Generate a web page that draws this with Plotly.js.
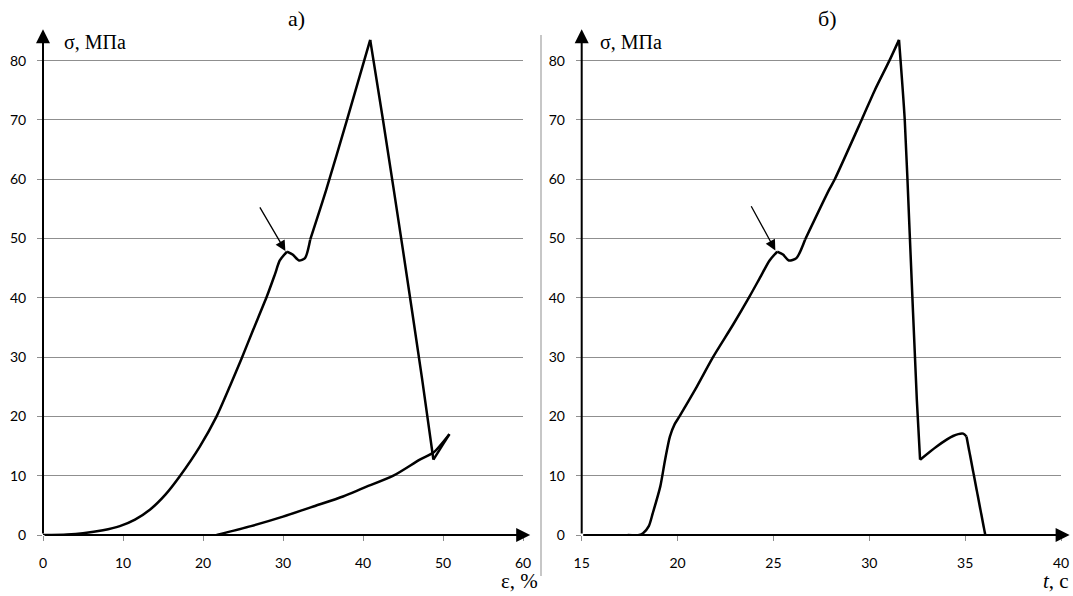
<!DOCTYPE html>
<html>
<head>
<meta charset="utf-8">
<script src="https://cdn.plot.ly/plotly-3.0.1.min.js"></script>
<style>html,body{margin:0;padding:0;background:#fff}#chart{width:1073px;height:596px}</style>
</head>
<body>
<div id="chart"></div>
<script>
// Panel а): stress vs strain
const strainA = [0, 3, 5, 7.5, 9.6, 11.5, 13.4, 15.3, 17.1, 19.6, 21.7, 23.4, 24.8, 26.3, 28.0, 29.0, 29.6, 30.5, 31.2, 32.0, 32.75, 33.4, 35.4, 38.0, 40.9, 42.5, 45.0, 47.4, 48.8, 50.8, 48.8, 47.1, 43.8, 40.0, 37.5, 34.0, 30.0, 26.0, 21.7];
const stressA = [0, 0.1, 0.3, 0.8, 1.5, 2.6, 4.3, 6.8, 9.9, 14.9, 20, 25.2, 29.7, 34.7, 40.3, 44.0, 46.3, 47.8, 47.3, 46.3, 46.7, 49.8, 58.2, 70, 83.5, 70, 48, 26.2, 12.7, 17.0, 13.9, 12.7, 10, 7.9, 6.5, 4.9, 3.1, 1.5, 0];
// indices of sharp corners in panel а)
const cornersA = [0, 17, 21, 24, 28, 29, 38];
// Panel б): stress vs time
const timeB = [17.4, 18.0, 18.2, 18.5, 18.7, 19.1, 19.35, 19.6, 19.85, 20.1, 21.0, 21.85, 22.9, 23.75, 24.3, 24.8, 25.2, 25.5, 25.8, 26.2, 26.65, 27.9, 28.2, 29.6, 30.3, 31.05, 31.55, 31.85, 32.1, 32.48, 32.65, 33.5, 34.37, 34.9, 35.07, 36.05];
const stressB = [0, 0, 0.3, 1.5, 3.6, 8.2, 12.7, 16.6, 18.7, 20, 25, 30, 35.5, 40.2, 43.4, 46.3, 47.8, 47.3, 46.3, 46.7, 49.8, 58.2, 60, 70, 75.1, 80, 83.5, 70, 51.5, 22.8, 12.7, 14.9, 16.7, 17.1, 16.6, 0];
const cornersB = [0, 16, 20, 26, 30, 34, 35];
// Ticks
const yTicks = [0, 10, 20, 30, 40, 50, 60, 70, 80];
const xTicksA = [0, 10, 20, 30, 40, 50, 60];
const xTicksB = [15, 20, 25, 30, 35, 40];
// Pointer arrows (tail -> head)
const arrowA = {tail: [27.0, 55.5], head: [30.3, 47.9]};
const arrowB = {tail: [23.8, 55.7], head: [25.1, 48.0]};

const W = 1073;
const tickFont = {family: 'Lato, "Open Sans", sans-serif', size: 14, color: '#000'};
const serif = '"Liberation Serif", "DejaVu Serif", serif';

const line = {color: '#000', width: 2.5, shape: 'spline', smoothing: 0.7};
const traces = [];
function addSegments(xs, ys, corners, xa, ya) {
  for (let i = 0; i < corners.length - 1; i++) {
    const a = corners[i], b = corners[i + 1];
    traces.push({x: xs.slice(a, b + 1), y: ys.slice(a, b + 1), xaxis: xa, yaxis: ya,
      mode: 'lines', line: line, hoverinfo: 'skip'});
  }
}
addSegments(strainA, stressA, cornersA, 'x', 'y');
addSegments(timeB, stressB, cornersB, 'x2', 'y2');

function yax(anchor) {
  return {anchor: anchor, range: [0, 85], tickvals: yTicks, ticktext: yTicks.map(String),
    showgrid: true, gridcolor: '#8f8f8f', gridwidth: 1, zeroline: false, showline: false,
    ticks: 'outside', ticklen: 5, tickcolor: '#8f8f8f', tickfont: tickFont, ticklabelstandoff: 8, fixedrange: true};
}
function xax(anchor, domain, range, vals) {
  return {anchor: anchor, domain: domain, range: range, tickvals: vals, ticktext: vals.map(String),
    showgrid: false, zeroline: false, showline: false,
    ticks: 'outside', ticklen: 5, tickcolor: '#8f8f8f', tickfont: tickFont, ticklabelstandoff: 10, fixedrange: true};
}

function axisArrow(xr, yr, x, y, ax, ay) {
  return {xref: xr, yref: yr, axref: xr, ayref: yr, x: x, y: y, ax: ax, ay: ay, text: '',
    showarrow: true, arrowhead: 2, arrowsize: 1.4, arrowwidth: 2, arrowcolor: '#000', standoff: 0};
}
function pointer(xr, yr, a) {
  return {xref: xr, yref: yr, axref: xr, ayref: yr, x: a.head[0], y: a.head[1], ax: a.tail[0], ay: a.tail[1], text: '',
    showarrow: true, arrowhead: 2, arrowsize: 1.6, arrowwidth: 1.3, arrowcolor: '#000', standoff: 0};
}
function label(xp, yp, txt, size, anchor) {
  return {xref: 'paper', yref: 'paper', x: xp, y: yp, text: txt, showarrow: false,
    xanchor: anchor || 'left', yanchor: 'middle', font: {family: serif, size: size, color: '#000'}};
}
// pixel -> paper helpers (plot area: top 31, bottom 535)
const px = v => v / W;
const py = v => (535 - v) / 504;

const layout = {
  width: 1073, height: 596,
  margin: {l: 0, r: 0, t: 31, b: 61},
  paper_bgcolor: '#fff', plot_bgcolor: '#fff',
  showlegend: false,
  xaxis: xax('y', [43 / W, 523 / W], [0, 60], xTicksA),
  yaxis: yax('x'),
  xaxis2: xax('y2', [581.7 / W, 1061 / W], [15, 40], xTicksB),
  yaxis2: yax('x2'),
  shapes: [
    {type: 'line', xref: 'paper', yref: 'paper', x0: px(541), x1: px(541), y0: py(35), y1: py(576), line: {color: '#8f8f8f', width: 1}}
  ],
  annotations: [
    axisArrow('x', 'y', 0, 85.3, 0, 0),
    axisArrow('x', 'y', 60.9, 0, 0, 0),
    axisArrow('x2', 'y2', 15, 85.3, 15, 0),
    axisArrow('x2', 'y2', 40.45, 0, 15, 0),
    pointer('x', 'y', arrowA),
    pointer('x2', 'y2', arrowB),
    label(px(286), py(18), 'а)', 22),
    label(px(816), py(18), 'б)', 22),
    label(px(62), py(42), 'σ, МПа', 20),
    label(px(598), py(42), 'σ, МПа', 20),
    label(px(540), py(581), 'ε, %', 21, 'right'),
    label(px(1071), py(581), '<i>t</i>, с', 21, 'right')
  ]
};

Plotly.newPlot('chart', traces, layout, {displayModeBar: false, staticPlot: true});
</script>
</body>
</html>
